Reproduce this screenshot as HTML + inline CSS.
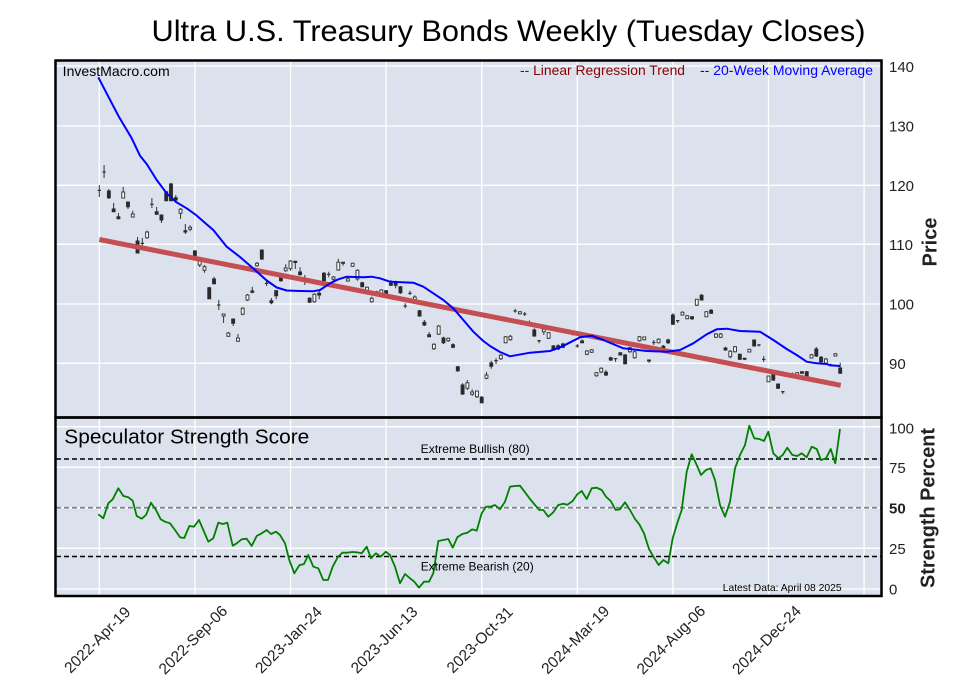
<!DOCTYPE html>
<html><head><meta charset="utf-8"><style>
html,body{margin:0;padding:0;background:#fff;}
svg{display:block;font-family:"Liberation Sans",Arial,sans-serif;}
</style></head><body>
<svg width="957" height="694" viewBox="0 0 957 694" xmlns="http://www.w3.org/2000/svg">
<rect x="0" y="0" width="957" height="694" fill="#fff"/>
<text x="151.5" y="41" font-size="30" textLength="714" lengthAdjust="spacingAndGlyphs" fill="#000">Ultra U.S. Treasury Bonds Weekly (Tuesday Closes)</text>

<!-- panels background -->
<rect x="55.5" y="60.5" width="826" height="357" fill="#dce2ed"/>
<rect x="55.5" y="417.5" width="826" height="178.5" fill="#dce2ed"/>

<!-- grid -->
<g stroke="#fff" stroke-width="1.3" fill="none">
<path d="M99.3 61V417M194.9 61V417M290.5 61V417M386.1 61V417M481.7 61V417M577.3 61V417M672.9 61V417M768.5 61V417M864.1 61V417"/>
<path d="M56 66H881M56 126H881M56 185.3H881M56 244.3H881M56 304H881M56 363.3H881"/>
<path d="M99.3 418V596M194.9 418V596M290.5 418V596M386.1 418V596M481.7 418V596M577.3 418V596M672.9 418V596M768.5 418V596M864.1 418V596"/>
<path d="M56 426.7H881M56 467.3H881M56 507.7H881M56 548.3H881M56 589H881"/>
</g>

<!-- candles -->
<g transform="translate(99.3 0) scale(4.78 1)">
<path vector-effect="non-scaling-stroke" stroke="#333" stroke-width="1" fill="none" d="M0 185V197M1 165V178M2 189V199M3 203V212M4 213V219M5 187V198M6 202V209M7 210.7V217M8 237V253M9 238V246M10 230.7V238.7M11 198V208M12 207V215M13 215V223M14 191.7V200.7M15 182.7V200.7M16 195V201.7M17 208V219M18 224V234M19 225.3V231.3M20 250V257.3M21 260V267M22 265V272.7M23 286.7V299.3M24 276.7V284.3M25 300V310M26 314V323M27 332V336.7M28 319V326M29 334V341.7M30 307.3V315.3M31 294V301M32 286.7V293.3M33 262V266.7M34 250V260M35 280.7V286M36 298V304.3M37 290V299.3M38 276V281.7M39 264.3V271.7M40 260V270.7M41 261.3V269M42 267.3V275.3M43 275V285M44 297.3V302.7M45 293.3V302.7M46 291V299.3M47 272V281.3M48 271.7V277.3M49 276V280.7M50 258.7V270.7M51 262.3V265.7M52 276.7V281.7M53 262.7V266.7M54 269.3V280.7M55 281.7V287.3M56 286.7V291.7M57 296.7V302.7M58 290.7V296M59 289.3V294M60 290V294.7M61 280V286M62 280.7V288.3M63 286V294M64 303.3V308.3M65 290.7V295M66 295.3V300.3M67 310V316.7M68 320V326M69 332V337.3M70 343.3V350M71 325V335M72 336.7V344M73 337.7V342M74 343.3V348.3M75 366V372M76 383.3V395M77 380V390M78 389.3V396M79 390.7V398M80 396V403.3M81 372V379.3M82 360.7V368.7M83 358.3V364M84 354V360M85 336V343.3M86 335V340.7M87 308.7V312.7M88 311V314.5M89 312V316M90 320.5V325M91 328.3V336.7M92 340.3V343.3M93 328.3V335M94 332V339M95 345V350.7M96 344.3V350M97 342.7V348.3M98 330V334M99 331.5V335.5M100 344V347.7M101 339.3V343.3M102 350V355.3M103 349V353M104 372V376.7M105 367.3V373.3M106 370V376M107 356.7V361M108 358.3V361.7M109 352.3V355.5M110 354V364.3M111 346.7V352.7M112 350.7V358.7M113 336V341.7M114 336.5V340.3M115 360V362.7M116 340V345M117 338.3V343.3M118 345V349.3M119 338.7V344M120 313.3V325M121 320.3V323M122 311.3V315.3M123 315V319.3M124 316V320M125 299V306M126 294V300.3M127 311V317M128 309V314M129 333V338M130 333V338M131 346.7V350.7M132 350V358.3M133 346V352.5M134 353.5V360M135 358V360M136 349V352.5M137 339.5V346.5M138 344V346.5M139 356V362M140 375.5V382M141 373V381M142 383.5V389M143 391.3V394M144 373V376M145 372.5V375.5M146 372V375.5M147 371V374M148 371V376.5M149 354V358.5M150 347V357M151 356V362.5M152 358V364M153 363.5V366.5M154 353V356.5M155 362.7V373.8"/>
<path vector-effect="non-scaling-stroke" stroke="#2a2a2a" stroke-width="1" fill="#2a2a2a" d="M1.7 191h.6V197.7h-.6ZM2.7 209h.6V211.7h-.6ZM3.7 216.7h.6V218.7h-.6ZM5.7 202h.6V206.7h-.6ZM7.7 241h.6V253h-.6ZM11.7 211.7h.6V214.3h-.6ZM12.7 215h.6V220h-.6ZM13.7 191.7h.6V200.7h-.6ZM14.7 184h.6V200.7h-.6ZM15.7 197.7h.6V200h-.6ZM17.7 230.7h.6V232h-.6ZM19.7 251h.6V256.7h-.6ZM22.7 287.7h.6V298.7h-.6ZM23.7 279h.6V283.7h-.6ZM27.7 319h.6V323.3h-.6ZM31.7 291h.6V292.3h-.6ZM33.7 250h.6V259h-.6ZM35.7 300.7h.6V302.7h-.6ZM36.7 290.7h.6V295.7h-.6ZM37.7 276.7h.6V280.7h-.6ZM40.7 261.3h.6V262.5h-.6ZM41.7 272h.6V274.7h-.6ZM43.7 298.3h.6V302.3h-.6ZM45.7 293.3h.6V295h-.6ZM46.7 273.3h.6V280.7h-.6ZM50.7 262.3h.6V263.3h-.6ZM54.7 282.7h.6V286.7h-.6ZM57.7 291.7h.6V295.3h-.6ZM59.7 290.7h.6V294h-.6ZM60.7 283.3h.6V285.3h-.6ZM61.7 282.3h.6V285.3h-.6ZM62.7 286.7h.6V292.7h-.6ZM66.7 310.7h.6V316h-.6ZM67.7 322.3h.6V325h-.6ZM68.7 334.7h.6V336.7h-.6ZM71.7 338h.6V342.7h-.6ZM73.7 344.7h.6V347.3h-.6ZM74.7 366.7h.6V370.7h-.6ZM75.7 385h.6V394h-.6ZM79.7 397.3h.6V402.7h-.6ZM81.7 363h.6V366.3h-.6ZM90.7 330h.6V336h-.6ZM94.7 346h.6V350h-.6ZM95.7 345.7h.6V349h-.6ZM96.7 344h.6V347.3h-.6ZM100.7 341h.6V342.7h-.6ZM105.7 372.3h.6V375h-.6ZM106.7 357.7h.6V360h-.6ZM108.7 352.7h.6V355h-.6ZM109.7 355h.6V363.7h-.6ZM114.7 360h.6V361h-.6ZM117.7 346.3h.6V348.3h-.6ZM118.7 340h.6V342.7h-.6ZM119.7 315h.6V324.3h-.6ZM123.7 316.7h.6V318.7h-.6ZM125.7 295.3h.6V300h-.6ZM127.7 310.3h.6V313.3h-.6ZM130.7 348h.6V350h-.6ZM133.7 354.3h.6V359.3h-.6ZM134.7 358.3h.6V359.3h-.6ZM136.7 340h.6V346h-.6ZM140.7 374h.6V380h-.6ZM141.7 384h.6V388.3h-.6ZM146.7 371.7h.6V373.3h-.6ZM147.7 371.7h.6V376h-.6ZM149.7 349h.6V356h-.6ZM150.7 357.3h.6V361.7h-.6ZM154.7 368h.6V373.3h-.6Z"/>
<path vector-effect="non-scaling-stroke" stroke="#3a3a3a" stroke-width="1" fill="#fff" d="M4.7 192h.6V198h-.6ZM6.7 214h.6V217h-.6ZM9.7 232h.6V237.7h-.6ZM16.7 209.3h.6V213.3h-.6ZM18.7 227.3h.6V229.3h-.6ZM20.7 260.7h.6V265h-.6ZM21.7 266.7h.6V270.3h-.6ZM25.7 314h.6V316h-.6ZM26.7 333h.6V336.3h-.6ZM28.7 338h.6V341.3h-.6ZM29.7 308.3h.6V314.3h-.6ZM30.7 295h.6V300h-.6ZM32.7 263.3h.6V265.7h-.6ZM38.7 268h.6V270.7h-.6ZM39.7 261h.6V268.7h-.6ZM44.7 294.3h.6V301.7h-.6ZM48.7 277h.6V279.3h-.6ZM49.7 262.3h.6V270h-.6ZM51.7 278.7h.6V281h-.6ZM52.7 263.3h.6V266.3h-.6ZM53.7 270.3h.6V279h-.6ZM55.7 287.3h.6V290.7h-.6ZM56.7 298.3h.6V301.7h-.6ZM58.7 290h.6V293.3h-.6ZM65.7 297h.6V299.7h-.6ZM69.7 344.3h.6V348.7h-.6ZM70.7 326h.6V334.3h-.6ZM72.7 338.3h.6V340.7h-.6ZM76.7 382.7h.6V388.3h-.6ZM77.7 392h.6V394.3h-.6ZM78.7 391h.6V396.7h-.6ZM80.7 375h.6V378.3h-.6ZM83.7 355.3h.6V358.7h-.6ZM84.7 336.7h.6V342.7h-.6ZM85.7 336.3h.6V339.7h-.6ZM87.7 311.7h.6V313.7h-.6ZM92.7 329.3h.6V331.7h-.6ZM93.7 332.7h.6V338.3h-.6ZM101.7 351h.6V354.3h-.6ZM102.7 349.7h.6V352.3h-.6ZM103.7 372.7h.6V375.7h-.6ZM104.7 368.3h.6V372h-.6ZM110.7 347.7h.6V351.7h-.6ZM111.7 351.7h.6V357.7h-.6ZM112.7 336.7h.6V340.7h-.6ZM113.7 337h.6V339.7h-.6ZM116.7 339.3h.6V342.7h-.6ZM121.7 312.3h.6V315h-.6ZM122.7 315.7h.6V318.7h-.6ZM124.7 299.3h.6V305.3h-.6ZM126.7 311.7h.6V316.7h-.6ZM128.7 334h.6V337.3h-.6ZM129.7 334h.6V337.3h-.6ZM131.7 351.3h.6V356.7h-.6ZM132.7 346.7h.6V351.7h-.6ZM135.7 349.3h.6V352h-.6ZM139.7 376h.6V381.7h-.6ZM145.7 372.7h.6V375h-.6ZM148.7 354.7h.6V358h-.6ZM151.7 359h.6V363.3h-.6ZM153.7 353.7h.6V356h-.6Z"/>
<path vector-effect="non-scaling-stroke" stroke="#333" stroke-width="1.3" fill="none" d="M-.35 190.4H.35M.65 171.9H1.35M8.65 243.4H9.35M10.65 204.4H11.35M24.65 305H25.35M34.65 283.4H35.35M42.65 280.7H43.35M47.65 274.4H48.35M63.65 306H64.35M64.65 293.4H65.35M82.65 360.7H83.35M86.65 311H87.35M88.65 314H89.35M89.65 322.9H90.35M91.65 340.7H92.35M97.65 331.9H98.35M98.65 333.4H99.35M99.65 346H100.35M107.65 358.6H108.35M115.65 342.5H116.35M120.65 320.7H121.35M137.65 345H138.35M138.65 359.4H139.35M142.65 391.7H143.35M143.65 374.5H144.35M144.65 374H145.35M152.65 365H153.35"/>
</g>

<!-- regression -->
<line x1="99.3" y1="239.5" x2="840.7" y2="385.3" stroke="#c44e52" stroke-width="5"/>
<!-- moving average -->
<polyline fill="none" stroke="#0000ff" stroke-width="2" stroke-linejoin="round" points="98.3,77.3 118.3,115.7 131.7,138.3 140,155.7 146.7,164 156.7,180 166.7,193.3 176,202 186.7,208.3 196,215 204,222 213.3,230 226.7,246.7 240,257 253.3,268.5 266.7,280.5 276.7,287.5 286.7,290.5 300,291 313,291.3 320,290 330,283.3 338.3,279.3 346.7,276.7 363.3,277.3 371.7,276.7 380,278.3 390,281.7 413.3,282.7 423.3,286.7 433.3,293.3 443.3,300 453.3,308.3 463.3,320 473.3,331.7 483.3,341 490,346 500,352 510,356.3 530,352.7 550,351 561.7,346.7 580,337.3 591.7,335.7 603.3,340 623.3,348.3 646.7,351 666.7,351.7 680,350 693.3,343.3 706.7,334.3 716.7,329.3 726.7,328.7 740,331 760,331.7 773.3,340 786.7,349 796.7,355 806.7,361.7 816.7,363.3 826.7,364 830,365.3 840,366"/>

<!-- bottom panel lines -->
<g fill="none" stroke-width="1.6">
<line x1="56" y1="459" x2="881" y2="459" stroke="#000" stroke-dasharray="5,3"/>
<line x1="56" y1="556.5" x2="881" y2="556.5" stroke="#000" stroke-dasharray="5,3"/>
<line x1="56" y1="507.7" x2="881" y2="507.7" stroke="#808080" stroke-dasharray="5,3"/>
</g>
<polyline fill="none" stroke="#008000" stroke-width="1.8" stroke-linejoin="round" points="98.3,514.3 103.3,518.3 108.3,503.3 112.7,499.3 118.3,488.3 123.3,496 128.3,497.3 132.7,500.7 136.7,516 141.7,518.7 146,515 151,502.7 156,510 160.7,519.3 165,521.7 170,523.3 175,530 180,537.3 184.3,538 189.3,526 194,526.7 199,520 203.3,530 208.3,541.7 213.3,538.3 218.3,522.7 222.7,524 227.3,522.7 232.7,545.7 236.7,543.3 241.7,539.3 246.7,538.7 251.7,546 256.7,536 261.7,533.3 266.7,530 271,534 276,531.7 280,535 285,543.3 289.3,560 294.3,573.3 299.3,565.3 304,564 308.3,555 313.3,566.7 318.3,568.3 323.3,580 328,580 332.7,566.7 337.7,557.3 342.3,552.7 347.3,552.7 352.3,552 356.7,552.3 361.7,553.3 366.7,546.7 371,558.3 376,553.3 380.7,556.7 385.7,551.7 390,555 395,566.7 400,583.3 405,574 410,578.3 414.3,581.7 419,587.7 424,581.7 429,581.7 433.3,573.3 438.3,541 443.3,540 448.3,539 452.7,547.7 457.3,537.3 462.3,534 467.3,532.7 472.3,529.3 476.7,530.7 481.7,513.3 486,506.7 490.7,506.7 495,505 500,509.3 505,501.7 510,486.7 515,486 520,485.7 525,492.3 530,499 535,505 539.3,510 543.3,510 548.3,516.7 553.3,512.3 558.3,505 563.3,503.7 567.3,504.7 572.7,501 577.3,494.3 581.7,491 586.7,499 591.7,488.3 596.7,487.7 601.7,490 606,496.7 610.7,501 615.7,510 620,509.3 625,502.3 630,510 635,519 639.3,524.3 644,533.3 649,549 654,557.7 658.7,565 663.3,560 668.3,563.3 672.7,538.3 677.7,521.7 681.7,510 686.7,471.7 691.7,454.3 696.7,465 701,475 706,470 710.7,468.3 715,480 720,505 725,516.7 730,501.7 735,468.3 740,455 745,445 749.3,425.7 754.3,438.3 759.3,439 764,441 768.3,431.7 773.3,453.3 778.3,458.3 782.7,455 787.3,447.7 792.3,455 797.3,456 801.7,453.3 806.7,457.3 811.7,446.7 816.7,449 821,460 826,458.3 830.7,449 835.3,463.3 840,429"/>

<!-- frames -->
<g fill="none" stroke="#000" stroke-width="2.5">
<rect x="55.5" y="60.5" width="826" height="357"/>
<rect x="55.5" y="417.5" width="826" height="178.5"/>
</g>

<!-- in-plot texts -->
<text x="62.7" y="76" font-size="14" textLength="107" lengthAdjust="spacingAndGlyphs" fill="#000">InvestMacro.com</text>
<text x="520" y="75" font-size="14" textLength="165" lengthAdjust="spacingAndGlyphs" fill="#8b0000">-- Linear Regression Trend</text>
<text x="700" y="75" font-size="14" textLength="173" lengthAdjust="spacingAndGlyphs" fill="#0000ff">-- 20-Week Moving Average</text>
<text x="64.3" y="443.5" font-size="20.5" textLength="245" lengthAdjust="spacingAndGlyphs" fill="#000">Speculator Strength Score</text>
<text x="420.7" y="453" font-size="12" textLength="109" lengthAdjust="spacingAndGlyphs" fill="#000">Extreme Bullish (80)</text>
<text x="420.7" y="570.5" font-size="12" textLength="113" lengthAdjust="spacingAndGlyphs" fill="#000">Extreme Bearish (20)</text>
<text x="722.7" y="591" font-size="10.5" textLength="119" lengthAdjust="spacingAndGlyphs" fill="#000">Latest Data: April 08 2025</text>

<!-- right axis labels -->
<g font-size="15" fill="#222">
<text x="889" y="72">140</text>
<text x="889" y="131.5">130</text>
<text x="889" y="190.8">120</text>
<text x="889" y="249.8">110</text>
<text x="889" y="309.5">100</text>
<text x="889" y="368.8">90</text>
<text x="889" y="433.5">100</text>
<text x="889" y="473">75</text>
<text x="889" y="513.5" font-weight="bold">50</text>
<text x="889" y="554">25</text>
<text x="889" y="594.5">0</text>
</g>
<text transform="translate(936.5 242) rotate(-90)" text-anchor="middle" font-size="20" font-weight="bold" fill="#222">Price</text>
<text transform="translate(934.5 508) rotate(-90)" text-anchor="middle" font-size="20" font-weight="bold" textLength="160" lengthAdjust="spacingAndGlyphs" fill="#222">Strength Percent</text>

<!-- x labels -->
<g font-size="15.5" fill="#222" text-anchor="middle">
<text transform="translate(97.5 640) rotate(-45)" dy="5">2022-Apr-19</text>
<text transform="translate(193.1 640) rotate(-45)" dy="5">2022-Sep-06</text>
<text transform="translate(288.7 640) rotate(-45)" dy="5">2023-Jan-24</text>
<text transform="translate(384.3 640) rotate(-45)" dy="5">2023-Jun-13</text>
<text transform="translate(479.9 640) rotate(-45)" dy="5">2023-Oct-31</text>
<text transform="translate(575.5 640) rotate(-45)" dy="5">2024-Mar-19</text>
<text transform="translate(671.1 640) rotate(-45)" dy="5">2024-Aug-06</text>
<text transform="translate(766.7 640) rotate(-45)" dy="5">2024-Dec-24</text>
</g>
</svg>
</body></html>
